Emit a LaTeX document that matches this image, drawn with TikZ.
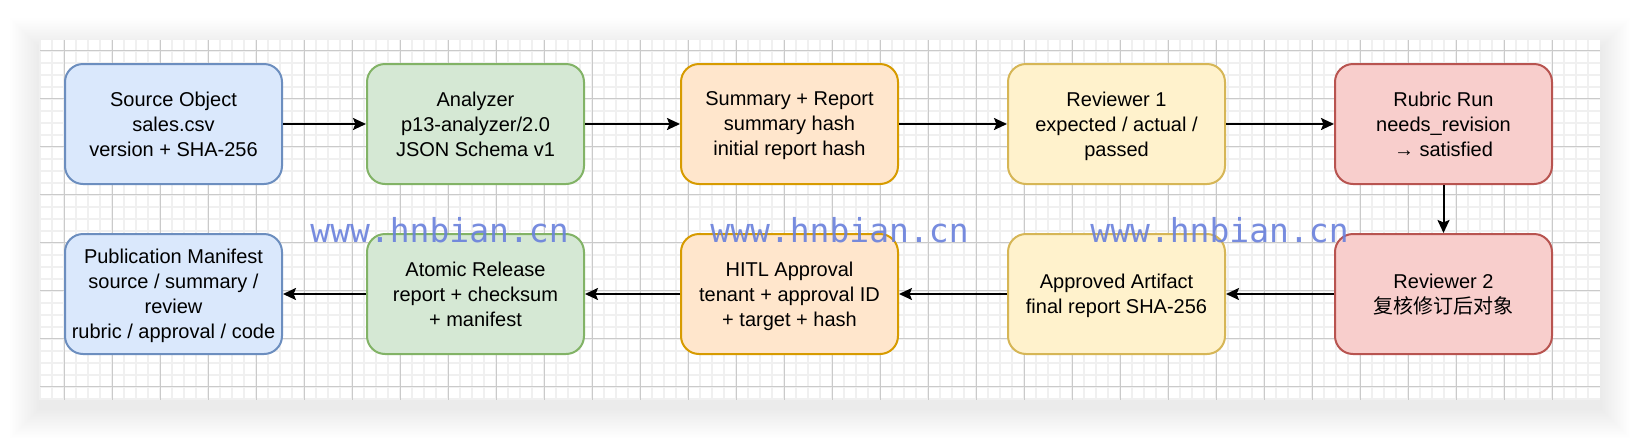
\documentclass[tikz,border=0pt]{standalone}
\usepackage{fontspec}
\setmainfont{Liberation Sans}
\newfontfamily\cjk{Noto Sans CJK SC}
\newfontfamily\markfont{DejaVu Sans Mono}
\usepackage{xcolor}
\usetikzlibrary{arrows.meta,positioning}

\definecolor{blueFill}{HTML}{DAE8FC}
\definecolor{blueLine}{HTML}{6C8EBF}
\definecolor{greenFill}{HTML}{D5E8D4}
\definecolor{greenLine}{HTML}{82B366}
\definecolor{orangeFill}{HTML}{FFE6CC}
\definecolor{orangeLine}{HTML}{D79B00}
\definecolor{yellowFill}{HTML}{FFF2CC}
\definecolor{yellowLine}{HTML}{D6B656}
\definecolor{redFill}{HTML}{F8CECC}
\definecolor{redLine}{HTML}{B85450}
\definecolor{gridMinor}{HTML}{F0F0F0}
\definecolor{gridMajor}{HTML}{CACACA}
\definecolor{markBlue}{RGB}{105,128,220}

\begin{document}
\begin{tikzpicture}[
  x=0.5pt,y=-0.5pt,
  node distance=24pt,
  every node/.style={font=\fontsize{10}{12.5}\selectfont,align=center},
  stagebox/.style={draw,rounded corners=9pt,minimum height=60pt,minimum width=108.5pt,line width=1pt,inner xsep=1pt,text depth=0pt},
  arrow/.style={-{Stealth[length=6.5pt,width=6pt,inset=1.2pt]},line width=1pt},
  watermark/.style={font=\markfont\fontsize{16.5}{18}\selectfont,text=markBlue,opacity=0.9,anchor=base west,inner sep=0pt}
]
\useasboundingbox (0,0) rectangle (1640,440);

% soft shadow and grid paper
\foreach \s in {1,...,20}
  \fill[black,opacity=0.005] ({40-1.5*\s},{48-1.5*\s}) rectangle ({1600+1.5*\s},{408+1.5*\s});
\fill[white] (40,40) rectangle (1600,400);
\foreach \k in {2,...,131}
  \draw[gridMinor,line width=1pt] ({16.3+12*\k},40) -- ({16.3+12*\k},400);
\foreach \k in {0,...,29}
  \draw[gridMinor,line width=1pt] (40,{50.7+12*\k}) -- (1600,{50.7+12*\k});
\foreach \k in {0,...,31}
  \draw[gridMajor,line width=0.5pt] ({64.3+48*\k},40) -- ({64.3+48*\k},400);
\foreach \k in {0,...,7}
  \draw[gridMajor,line width=0.5pt] (40,{50.7+48*\k}) -- (1600,{50.7+48*\k});

% top row
\node[stagebox,fill=blueFill,draw=blueLine] (source) at (173.5,124) {Source Object\\sales.csv\\version + SHA-256};
\node[stagebox,fill=greenFill,draw=greenLine,right=41.5pt of source] (analyzer) {Analyzer\\p13-analyzer/2.0\\JSON Schema v1};
\node[stagebox,fill=orangeFill,draw=orangeLine,right=47.5pt of analyzer] (summary) {Summary + Report\\summary hash\\initial report hash};
\node[stagebox,fill=yellowFill,draw=yellowLine,right=54pt of summary] (review1) {Reviewer 1\\expected / actual /\\passed};
\node[stagebox,fill=redFill,draw=redLine,right=54pt of review1] (rubric) {Rubric Run\\needs\_revision\\→ satisfied};

% bottom row
\node[stagebox,fill=redFill,draw=redLine,below=of rubric] (review2) {Reviewer 2\\{\cjk 复核修订后对象}};
\node[stagebox,fill=yellowFill,draw=yellowLine,below=of review1] (approved) {Approved Artifact\\final report SHA-256};
\node[stagebox,fill=orangeFill,draw=orangeLine,below=of summary] (hitl) {HITL Approval\\tenant + approval ID\\+ target + hash};
\node[stagebox,fill=greenFill,draw=greenLine,below=of analyzer] (release) {Atomic Release\\report + checksum\\+ manifest};
\node[stagebox,fill=blueFill,draw=blueLine,below=of source] (manifest) {Publication Manifest\\source / summary /\\review\\rubric / approval / code};

\draw[arrow] (source) -- (analyzer);
\draw[arrow] (analyzer) -- (summary);
\draw[arrow] (summary) -- (review1);
\draw[arrow] (review1) -- (rubric);
\draw[arrow] (rubric) -- (review2);
\draw[arrow] (review2) -- (approved);
\draw[arrow] (approved) -- (hitl);
\draw[arrow] (hitl) -- (release);
\draw[arrow] (release) -- (manifest);

% watermark
\node[watermark] (mark1) at (310,242) {www.hnbian.cn};
\node[watermark] (mark2) at (710,242) {www.hnbian.cn};
\node[watermark] (mark3) at (1090,242) {www.hnbian.cn};
\end{tikzpicture}
\end{document}
